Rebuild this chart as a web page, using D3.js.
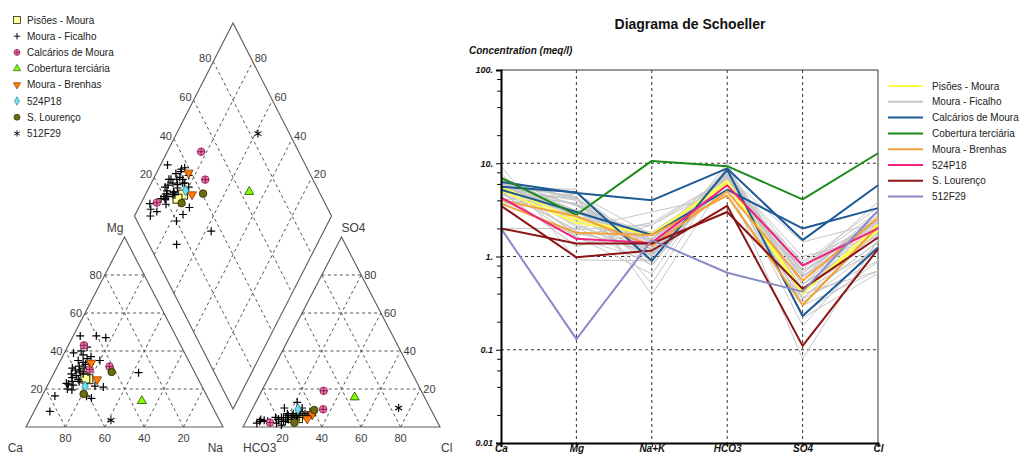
<!DOCTYPE html>
<html>
<head>
<meta charset="utf-8">
<script src="https://cdn.jsdelivr.net/npm/d3@7"></script>
<style>
  body { margin: 0; background: #fff; }
  svg { display: block; font-family: Arial, "Liberation Sans", sans-serif; }
</style>
</head>
<body>
<svg id="chart" width="1024" height="456"></svg>
<script>
// Major ions, in Schoeller order
const ions = ["Ca", "Mg", "Na+K", "HCO3", "SO4", "Cl"];

const groupNames = ["Pisões - Moura", "Moura - Ficalho", "Calcários de Moura", "Cobertura terciária",
                    "Moura - Brenhas", "524P18", "S. Lourenço", "512F29"];

// Analyses in meq/l: Ca, Mg, Na+K, HCO3, SO4, Cl
const pisoesMoura = [
  [5.1, 2.3, 1.75, 6.0, 0.40, 2.2],
  [5.6, 2.5, 1.70, 6.5, 0.42, 1.9]
];
const mouraFicalho = [
  [5.34, 5.28, 0.39, 7.0, 0.50, 2.5],
  [4.03, 4.80, 1.17, 6.4, 0.60, 3.0],
  [3.60, 4.70, 1.70, 6.2, 0.80, 3.0],
  [6.20, 4.29, 0.51, 8.9, 0.40, 0.7],
  [5.46, 3.99, 1.05, 7.7, 0.50, 1.8],
  [4.85, 3.70, 1.45, 7.1, 0.70, 2.2],
  [4.05, 3.15, 1.80, 5.85, 0.90, 2.25],
  [6.72, 4.20, 1.08, 9.0, 0.60, 2.4],
  [5.86, 3.63, 1.51, 7.7, 0.66, 2.64],
  [5.80, 3.00, 1.20, 7.8, 0.50, 1.7],
  [6.27, 3.08, 1.65, 7.26, 1.43, 2.31],
  [5.40, 2.90, 1.70, 6.6, 0.60, 2.8],
  [5.82, 2.16, 1.02, 7.2, 0.36, 1.44],
  [6.72, 2.26, 1.02, 8.75, 0.35, 0.9],
  [5.53, 1.87, 1.10, 6.89, 0.43, 1.19],
  [6.03, 1.76, 1.22, 6.66, 0.63, 1.71],
  [4.88, 1.94, 2.18, 6.75, 0.45, 1.8],
  [4.02, 1.68, 2.30, 6.88, 0.24, 0.88],
  [2.00, 2.00, 3.00, 4.55, 0.35, 2.1],
  [7.70, 1.63, 0.65, 9.0, 0.30, 0.7],
  [4.90, 1.30, 1.81, 6.4, 0.32, 1.28],
  [5.03, 1.28, 2.18, 5.95, 0.43, 2.13],
  [9.40, 0.92, 0.90, 10.1, 0.22, 0.66],
  [6.27, 3.52, 1.21, 7.92, 0.66, 2.42],
  [5.50, 3.10, 1.40, 7.4, 1.00, 1.6],
  [6.48, 4.08, 1.44, 7.8, 0.84, 3.36],
  [5.40, 2.70, 0.90, 7.2, 0.36, 1.44],
  [6.10, 2.70, 1.20, 6.9, 0.50, 2.6],
  [5.10, 3.60, 1.30, 6.7, 0.80, 2.5],
  [6.71, 2.75, 1.54, 8.25, 0.44, 2.31],
  [6.96, 3.48, 1.56, 7.44, 0.72, 3.84],
  [4.59, 2.97, 1.44, 6.03, 0.81, 2.16],
  [6.35, 2.60, 1.05, 7.8, 0.30, 1.9],
  [6.12, 2.07, 0.81, 7.38, 0.18, 1.44],
  [5.72, 4.40, 0.88, 8.03, 0.55, 2.42],
  [4.80, 4.20, 1.00, 6.8, 0.70, 2.5],
  [6.10, 3.10, 0.80, 7.7, 0.30, 2.0],
  [6.93, 3.08, 0.99, 7.92, 0.44, 2.64],
  [6.10, 2.40, 1.50, 7.4, 0.60, 2.0],
  [5.52, 1.60, 0.88, 6.4, 0.08, 1.52]
];
const calcariosMoura = [
  [5.6, 4.9, 0.9, 8.5, 0.23, 1.25],
  [6.3, 4.8, 4.0, 8.8, 1.5, 5.8],
  [5.2, 3.0, 1.7, 5.2, 2.0, 3.3]
];
const coberturaTerciaria = [
  [7.0, 2.8, 10.6, 9.3, 4.1, 12.8]
];
const mouraBrenhas = [
  [4.0, 2.7, 1.3, 5.0, 0.55, 2.6],
  [3.7, 1.8, 1.7, 4.5, 0.30, 2.1]
];
const p524P18 = [
  [4.3, 1.55, 1.4, 5.8, 0.8, 2.0]
];
const sLourenco = [
  [3.5, 0.98, 1.16, 3.5, 0.11, 1.2],
  [2.0, 1.38, 1.38, 3.0, 0.45, 1.6]
];
const f512F29 = [
  [2.0, 0.13, 1.5, 0.67, 0.42, 3.1]
];

const groupSamples = [pisoesMoura, mouraFicalho, calcariosMoura, coberturaTerciaria,
                      mouraBrenhas, p524P18, sLourenco, f512F29];

// Axis labelling
const yTickValues = [100, 10, 1, 0.1, 0.01];
const yTickLabels = ["100.", "10.", "1.", "0.1", "0.01"];
const yMinorMultiples = [2, 4, 6, 8];
const pctTicks = [20, 40, 60, 80];

// Styles per group
const lineColors = ["#ffff4d", "#c6c6c6", "#1d5a96", "#1b8a1b", "#f2a23c", "#f0207e", "#8c1414", "#8a8ac6"];
const lineWidths = [2, 1, 2, 2, 2, 2, 2, 2];
const markerKinds = ["square", "plus", "crossCircle", "triUp", "triDown", "diamond", "circle", "asterisk"];

const svg = d3.select("#chart");

// ---------- marker drawing ----------
function drawMarker(g, kind, x, y, big) {
  const s = big ? 1 : 0.8;
  const m = g.append("g").attr("transform", `translate(${x},${y}) scale(${s})`);
  switch (kind) {
    case "square":
      m.append("rect").attr("x", -4.5).attr("y", -4.5).attr("width", 9).attr("height", 9)
        .attr("fill", "#ffff99").attr("stroke", "#111").attr("stroke-width", 0.9);
      break;
    case "plus":
      m.append("path").attr("d", "M-4,0H4M0,-4V4").attr("stroke", "#000").attr("stroke-width", 1.2);
      break;
    case "crossCircle":
      m.append("circle").attr("r", 3.8).attr("fill", "#f070b0").attr("stroke", "#8a2050").attr("stroke-width", 0.8);
      m.append("path").attr("d", "M-3.8,0H3.8M0,-3.8V3.8").attr("stroke", "#7a1a40").attr("stroke-width", 0.9);
      break;
    case "triUp":
      m.append("path").attr("d", d3.symbol(d3.symbolTriangle, 36)())
        .attr("fill", "#7fff00").attr("stroke", "#2a4a00").attr("stroke-width", 0.8);
      break;
    case "triDown":
      m.append("path").attr("d", d3.symbol(d3.symbolTriangle, 36)()).attr("transform", "rotate(180)")
        .attr("fill", "#ff7a00").attr("stroke", "#8a3a00").attr("stroke-width", 0.8);
      break;
    case "diamond":
      m.append("path").attr("d", d3.symbol(d3.symbolDiamond, 34)())
        .attr("fill", "#6ee0f0").attr("stroke", "#2a8090").attr("stroke-width", 0.8);
      break;
    case "circle":
      m.append("circle").attr("r", 3.8).attr("fill", "#6b6b12").attr("stroke", "#2a2a00").attr("stroke-width", 0.8);
      break;
    case "asterisk":
      m.append("path").attr("d", "M0,-4V4M-3.5,-2L3.5,2M-3.5,2L3.5,-2").attr("stroke", "#000").attr("stroke-width", 1.1);
      break;
  }
}

// ---------- Piper diagram ----------
const sx = d3.scaleLinear().domain([0, 1]).range([0, 197]);   // triangle side, horizontal
const sy = d3.scaleLinear().domain([0, 1]).range([0, 190]);   // triangle height
const sd = d3.scaleLinear().domain([0, 1]).range([0, 193]);   // diamond half-height

const catOrigin = [26, 427], aniOrigin = [243, 427], diaBottom = [233, 409];

function catXY(mg, na) { return [catOrigin[0] + sx(na + mg / 2), catOrigin[1] - sy(mg)]; }
function aniXY(so4, cl) { return [aniOrigin[0] + sx(cl + so4 / 2), aniOrigin[1] - sy(so4)]; }
function diaXY(nak, so4cl) {
  return [diaBottom[0] + sx((so4cl - (1 - nak)) / 2), diaBottom[1] - sd((1 - nak) + so4cl)];
}

const piperG = svg.append("g");
const gridG = piperG.append("g").attr("fill", "none").attr("stroke", "#555")
  .attr("stroke-width", 1).attr("stroke-dasharray", "3,3");
const lineGen = d3.line();

pctTicks.forEach(t => {
  const k = t / 100;
  [[catXY(k, 0), catXY(k, 1 - k)], [catXY(0, k), catXY(1 - k, k)], [catXY(0, 1 - k), catXY(1 - k, 0)],
   [aniXY(k, 0), aniXY(k, 1 - k)], [aniXY(0, k), aniXY(1 - k, k)], [aniXY(0, 1 - k), aniXY(1 - k, 0)],
   [diaXY(0, k), diaXY(1, k)], [diaXY(1 - k, 0), diaXY(1 - k, 1)]]
    .forEach(seg => gridG.append("path").attr("d", lineGen(seg)));
});

const outlineG = piperG.append("g").attr("fill", "none").attr("stroke", "#5a5a5a").attr("stroke-width", 1.1);
outlineG.append("path").attr("d", lineGen([catXY(0, 0), catXY(0, 1), catXY(1, 0)]) + "Z");
outlineG.append("path").attr("d", lineGen([aniXY(0, 0), aniXY(0, 1), aniXY(1, 0)]) + "Z");
outlineG.append("path").attr("d", lineGen([diaXY(1, 0), diaXY(0, 0), diaXY(0, 1), diaXY(1, 1)]) + "Z");

// Percentage labels
const labG = piperG.append("g").attr("font-size", 11).attr("fill", "#3c3c3c");
pctTicks.forEach(t => {
  const k = t / 100;
  let p = catXY(k, 0);
  labG.append("text").attr("x", p[0] - 3).attr("y", p[1]).attr("dy", "0.35em").attr("text-anchor", "end").text(t);
  p = catXY(0, 1 - k);
  labG.append("text").attr("x", p[0]).attr("y", p[1] + 11).attr("dy", "0.35em").attr("text-anchor", "middle").text(t);
  p = aniXY(k, 1 - k);
  labG.append("text").attr("x", p[0] + 3).attr("y", p[1]).attr("dy", "0.35em").attr("text-anchor", "start").text(t);
  p = aniXY(0, k);
  labG.append("text").attr("x", p[0]).attr("y", p[1] + 11).attr("dy", "0.35em").attr("text-anchor", "middle").text(t);
  p = diaXY(0, k);
  labG.append("text").attr("x", p[0] - 2).attr("y", p[1] - 3).attr("dy", "0.35em").attr("text-anchor", "end").text(t);
  p = diaXY(1 - k, 1);
  labG.append("text").attr("x", p[0] + 2).attr("y", p[1] - 3).attr("dy", "0.35em").attr("text-anchor", "start").text(t);
});

// Corner names
const nameG = piperG.append("g").attr("font-size", 12).attr("fill", "#404040");
let c = catXY(1, 0);
nameG.append("text").attr("x", c[0] - 1).attr("y", c[1] - 5).attr("text-anchor", "end").text("Mg");
c = aniXY(1, 0);
nameG.append("text").attr("x", c[0]).attr("y", c[1] - 5).attr("text-anchor", "start").text("SO4");
c = catXY(0, 0);
nameG.append("text").attr("x", c[0] - 3).attr("y", c[1] + 25).attr("text-anchor", "end").text("Ca");
c = catXY(0, 1);
nameG.append("text").attr("x", c[0]).attr("y", c[1] + 25).attr("text-anchor", "end").text("Na");
c = aniXY(0, 0);
nameG.append("text").attr("x", c[0]).attr("y", c[1] + 25).attr("text-anchor", "start").text("HCO3");
c = aniXY(0, 1);
nameG.append("text").attr("x", c[0] + 1).attr("y", c[1] + 25).attr("text-anchor", "start").text("Cl");

// Sample points in the three fields
const ptsG = piperG.append("g");
groupSamples.forEach((rows, gi) => {
  rows.forEach(r => {
    const tc = r[0] + r[1] + r[2];
    const ta = r[3] + r[4] + r[5];
    const mg = r[1] / tc, na = r[2] / tc;
    const so4 = r[4] / ta, cl = r[5] / ta;
    [catXY(mg, na), aniXY(so4, cl), diaXY(na, so4 + cl)]
      .forEach(p => drawMarker(ptsG, markerKinds[gi], p[0], p[1], true));
  });
});

// Piper legend
const pLeg = svg.append("g").attr("font-size", 10).attr("fill", "#222");
groupNames.forEach((name, i) => {
  const y = 20 + i * 16.2;
  drawMarker(pLeg, markerKinds[i], 17, y, false);
  pLeg.append("text").attr("x", 27).attr("y", y).attr("dy", "0.35em").text(name);
});

// ---------- Schoeller diagram ----------
const xS = d3.scalePoint().domain(ions).range([501, 878]);
const yS = d3.scaleLog().domain([0.01, 100]).range([443, 70]);

const sG = svg.append("g");

sG.append("text").attr("x", 690).attr("y", 29).attr("text-anchor", "middle")
  .attr("font-size", 14).attr("font-weight", "bold").attr("fill", "#111").text("Diagrama de Schoeller");
sG.append("text").attr("x", 469).attr("y", 54)
  .attr("font-size", 10).attr("font-weight", "bold").attr("font-style", "italic").attr("fill", "#111")
  .text("Concentration (meq/l)");

// frame
sG.append("path").attr("d", `M${xS("Ca")},70H${xS("Cl")}V443`).attr("fill", "none")
  .attr("stroke", "#333").attr("stroke-width", 1);

// dashed grid
const sGrid = sG.append("g").attr("stroke", "#333").attr("stroke-dasharray", "3,3").attr("stroke-width", 1);
ions.slice(1, -1).forEach(k => sGrid.append("line")
  .attr("x1", xS(k)).attr("x2", xS(k)).attr("y1", 70).attr("y2", 443));
yTickValues.slice(1, -1).forEach(v => sGrid.append("line")
  .attr("x1", 501).attr("x2", 878).attr("y1", yS(v)).attr("y2", yS(v)));

// lines, light group first
const line6 = d3.line().x((d, i) => xS(ions[i])).y(d => yS(d));
const drawOrder = [1, 0, 2, 3, 4, 5, 6, 7];
drawOrder.forEach(gi => {
  sG.append("g").selectAll("path").data(groupSamples[gi]).join("path")
    .attr("d", line6).attr("fill", "none")
    .attr("stroke", lineColors[gi]).attr("stroke-width", lineWidths[gi]).attr("stroke-linejoin", "round");
});

// axes
const minorVals = [];
yTickValues.slice(1).forEach(dec => yMinorMultiples.forEach(m => minorVals.push(dec * m)));
const yMinor = sG.append("g").attr("transform", "translate(501,0)")
  .call(d3.axisLeft(yS).tickValues(minorVals).tickSize(4).tickFormat(""));
yMinor.select(".domain").remove();
yMinor.selectAll("line").attr("stroke", "#111");

const yAxis = sG.append("g").attr("transform", "translate(501,0)")
  .call(d3.axisLeft(yS).tickValues(yTickValues).tickSize(5).tickPadding(3)
    .tickFormat((d, i) => yTickLabels[i]));
yAxis.select(".domain").attr("stroke", "#000").attr("stroke-width", 2);
yAxis.selectAll("text").attr("font-size", 9).attr("font-weight", "bold").attr("font-style", "italic")
  .attr("fill", "#111").attr("font-family", "Arial, sans-serif");

const xAxis = sG.append("g").attr("transform", "translate(0,443)")
  .call(d3.axisBottom(xS).tickSize(4));
xAxis.select(".domain").attr("stroke", "#000").attr("stroke-width", 2);
xAxis.selectAll("text").attr("y", 2).attr("dy", "0.71em")
  .attr("font-size", 10).attr("font-weight", "bold").attr("font-style", "italic")
  .attr("fill", "#111").attr("font-family", "Arial, sans-serif");

// legend
const sLeg = svg.append("g").attr("font-size", 10).attr("fill", "#222");
groupNames.forEach((name, i) => {
  const y = 86 + i * 15.8;
  sLeg.append("line").attr("x1", 888).attr("x2", 923).attr("y1", y).attr("y2", y)
    .attr("stroke", lineColors[i]).attr("stroke-width", 2);
  sLeg.append("text").attr("x", 932).attr("y", y).attr("dy", "0.35em").text(name);
});
</script>
</body>
</html>
